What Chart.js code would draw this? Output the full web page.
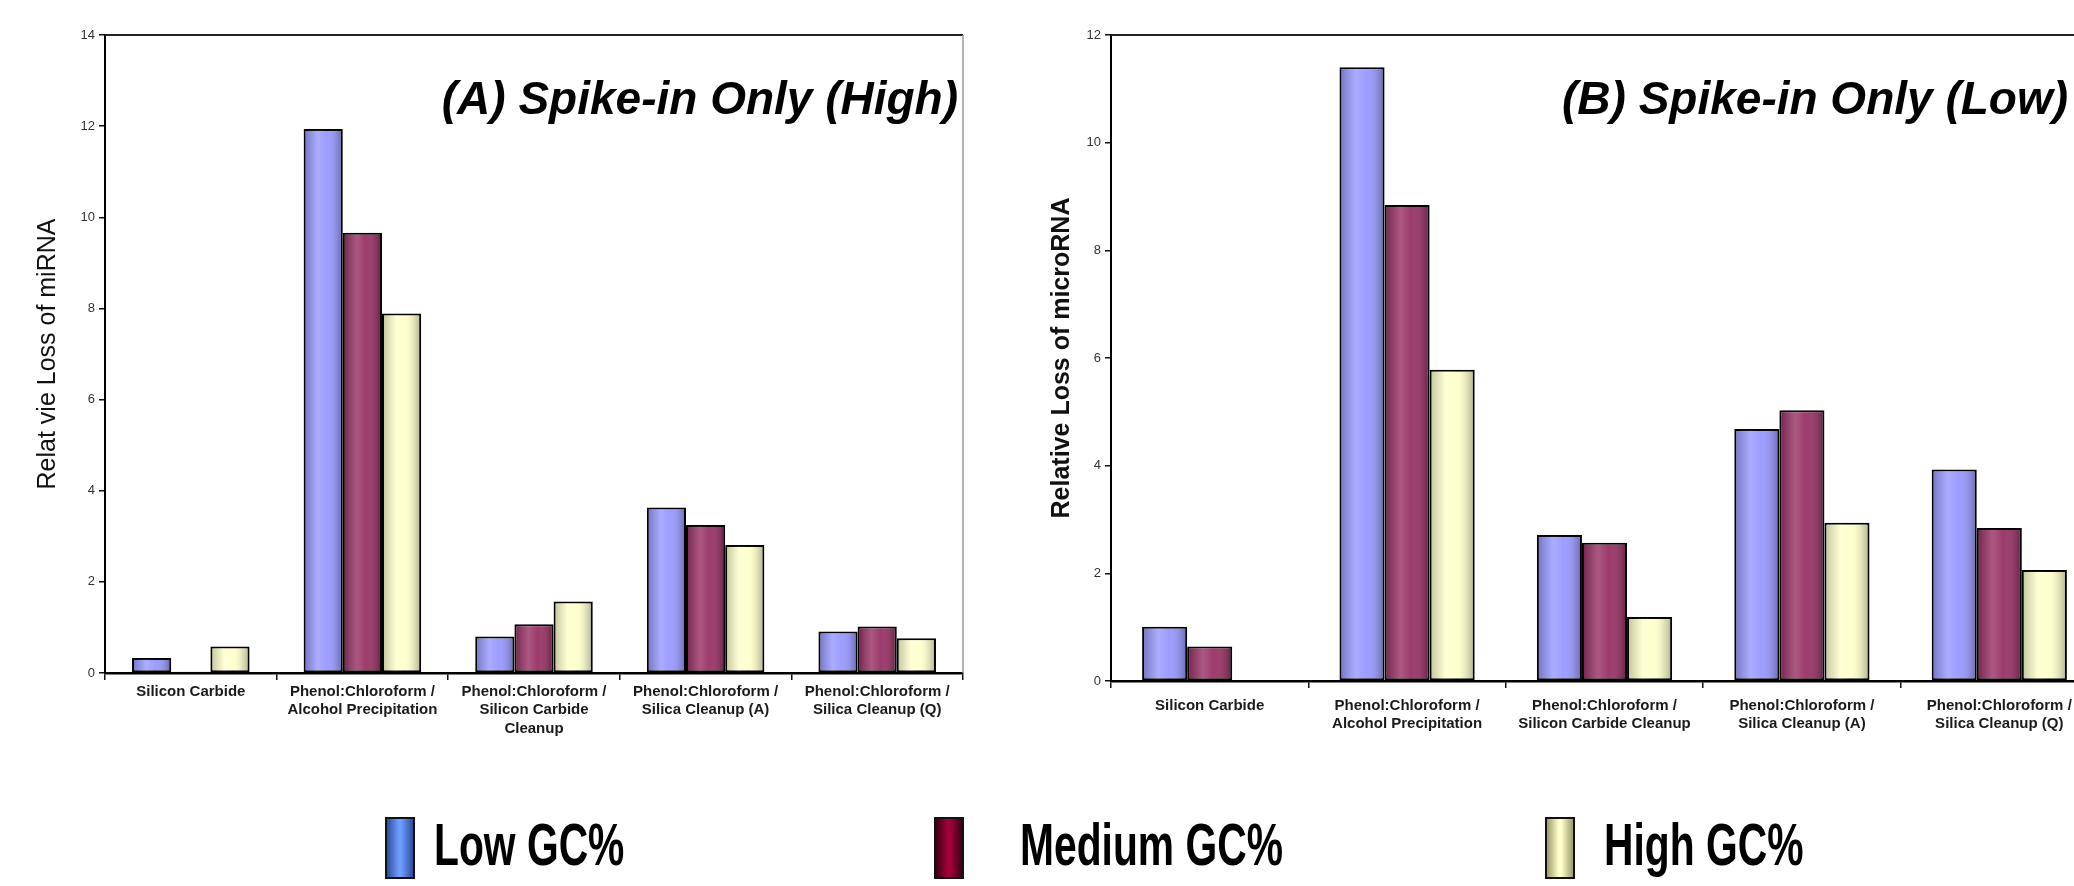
<!DOCTYPE html>
<html>
<head>
<meta charset="utf-8">
<title>Relative loss of miRNA by extraction method</title>
<script src="https://cdn.jsdelivr.net/npm/chart.js@4.4.1/dist/chart.umd.min.js"></script>
<style>
  html, body { margin: 0; padding: 0; background: #fff; }
  body { width: 2074px; height: 886px; position: relative; overflow: hidden; }
  #chartA { position: absolute; left: 0; top: 0; }
  #chartB { position: absolute; left: 1000px; top: 0; }
  .box { position: absolute; top: 817px; width: 30px; height: 62px; border: 2px solid #111; box-sizing: border-box; }
  .txt { position: absolute; top: 810px; height: 76px; line-height: 76px; white-space: nowrap;
         font: bold 60px "Liberation Sans", Arial, sans-serif; color: #000;
         transform: scaleX(0.68); transform-origin: left center; }
</style>
</head>
<body>
<canvas id="chartA" width="1000" height="790"></canvas>
<canvas id="chartB" width="1120" height="790"></canvas>
<div class="box" style="left:385px"></div><div class="txt" style="left:434px"></div>
<div class="box" style="left:934px"></div><div class="txt" style="left:1020px"></div>
<div class="box" style="left:1545px"></div><div class="txt" style="left:1604px"></div>

<script>
// series names and colours
const groups = ['Low GC%', 'Medium GC%', 'High GC%'];
const barColors = ['#9999ff', '#993366', '#ffffcc'];
const keyEdge = ['#2e4c98', '#3a0014', '#9c9c6c'];
const keyMid = ['#6c9cff', '#a2003a', '#ffffcc'];

// (A) Spike-in Only (High)
const labelsA = [
    'Silicon Carbide',
    ['Phenol:Chloroform /', 'Alcohol Precipitation'],
    ['Phenol:Chloroform /', 'Silicon Carbide', 'Cleanup'],
    ['Phenol:Chloroform /', 'Silica Cleanup (A)'],
    ['Phenol:Chloroform /', 'Silica Cleanup (Q)']
];
const lowA = [0.33, 11.94, 0.80, 3.63, 0.91];
const mediumA = [0.03, 9.66, 1.07, 3.25, 1.02];
const highA = [0.58, 7.89, 1.57, 2.81, 0.76];

// (B) Spike-in Only (Low)
const labelsB = [
    'Silicon Carbide',
    ['Phenol:Chloroform /', 'Alcohol Precipitation'],
    ['Phenol:Chloroform /', 'Silicon Carbide Cleanup'],
    ['Phenol:Chloroform /', 'Silica Cleanup (A)'],
    ['Phenol:Chloroform /', 'Silica Cleanup (Q)']
];
const lowB = [1.01, 11.40, 2.71, 4.68, 3.93];
const mediumB = [0.64, 8.84, 2.57, 5.03, 2.84];
const highB = [null, 5.78, 1.19, 2.94, 2.06];

const fontFamily = '"Liberation Sans", Arial, sans-serif';

// light/dark shading across each bar, like the old Excel bars
const shade = {
    id: 'shade',
    afterDatasetDraw(chart, args) {
        const ctx = chart.ctx;
        args.meta.data.forEach(bar => {
            const p = bar.getProps(['x', 'y', 'base', 'width'], true);
            if (!Number.isFinite(p.y) || !Number.isFinite(p.x)) return;
            const l = p.x - p.width / 2 + 1.5, r = p.x + p.width / 2 - 1.5;
            const t = Math.min(p.y, p.base) + 1.5, b = Math.max(p.y, p.base) - 1;
            if (r <= l || b <= t) return;
            const g = ctx.createLinearGradient(l, 0, r, 0);
            g.addColorStop(0, 'rgba(0,0,0,0.22)');
            g.addColorStop(0.35, 'rgba(255,255,255,0.18)');
            g.addColorStop(0.6, 'rgba(255,255,255,0.04)');
            g.addColorStop(1, 'rgba(0,0,0,0.28)');
            ctx.save();
            ctx.fillStyle = g;
            ctx.fillRect(l, t, r - l, b - t);
            ctx.restore();
        });
    }
};

// top / right frame of the plot and the panel heading
const frame = {
    id: 'frame',
    afterDraw(chart, args, opts) {
        const ctx = chart.ctx;
        const a = chart.chartArea;
        ctx.save();
        ctx.strokeStyle = '#222';
        ctx.lineWidth = 2;
        ctx.beginPath();
        ctx.moveTo(a.left, a.top);
        ctx.lineTo(a.right, a.top);
        ctx.stroke();
        ctx.strokeStyle = '#9a9a9a';
        ctx.lineWidth = 1.5;
        ctx.beginPath();
        ctx.moveTo(a.right, a.top);
        ctx.lineTo(a.right, a.bottom);
        ctx.stroke();
        ctx.font = 'italic bold 46px ' + fontFamily;
        ctx.fillStyle = '#000';
        ctx.textAlign = 'right';
        ctx.textBaseline = 'alphabetic';
        ctx.fillText(opts.text, a.right - opts.inset, a.top + 79);
        ctx.restore();
    }
};

function makeChart(id, labels, series, yMax, heading, inset, yTitle, yBold, yWidth, titlePad, xHeight, padRight, labelPad) {
    const datasets = series.map((data, i) => ({
        label: groups[i],
        data: data,
        backgroundColor: barColors[i],
        borderColor: '#000',
        borderWidth: 2,
        borderSkipped: false
    }));

    return new Chart(document.getElementById(id), {
        type: 'bar',
        data: { labels: labels, datasets: datasets },
        options: {
            responsive: false,
            animation: false,
            categoryPercentage: 0.685,
            barPercentage: 1,
            layout: { padding: { left: 0, top: 35, right: padRight, bottom: 0 } },
            plugins: {
                legend: { display: false },
                tooltip: { enabled: false },
                frame: { text: heading, inset: inset }
            },
            scales: {
                x: {
                    grid: { drawOnChartArea: false, drawTicks: true, tickLength: 7, color: '#111', lineWidth: 1.5 },
                    border: { display: true, color: '#000', width: 2.5 },
                    ticks: {
                        color: '#1a1a1a',
                        font: { family: fontFamily, size: 15, weight: 'bold', lineHeight: 1.25 },
                        padding: labelPad,
                        maxRotation: 0,
                        autoSkip: false
                    },
                    afterFit: s => { s.height = xHeight; }
                },
                y: {
                    min: 0,
                    max: yMax,
                    grid: { drawOnChartArea: false, tickLength: 6, color: '#111', lineWidth: 1.5 },
                    border: { display: true, color: '#000', width: 2 },
                    ticks: { stepSize: 2, color: '#333', font: { family: fontFamily, size: 13 }, padding: 4 },
                    title: {
                        display: true,
                        text: yTitle,
                        color: '#111',
                        font: { family: fontFamily, size: 25, weight: yBold ? 'bold' : 'normal', lineHeight: 1.2 },
                        padding: { top: titlePad, bottom: 0 }
                    },
                    afterFit: s => { s.width = yWidth; }
                }
            }
        },
        plugins: [shade, frame]
    });
}

makeChart('chartA', labelsA, [lowA, mediumA, highA], 14, '(A) Spike-in Only (High)', 5,
    'Relat vie Loss of miRNA', false, 105, 33, 117, 37, 2);
makeChart('chartB', labelsB, [lowB, mediumB, highB], 12, '(B) Spike-in Only (Low)', 30,
    'Relative Loss of microRNA', true, 111, 47, 109, 22, 8);

// shared legend under both panels
const boxes = document.querySelectorAll('.box');
const texts = document.querySelectorAll('.txt');
groups.forEach((name, i) => {
    boxes[i].style.background =
        `linear-gradient(to right, ${keyEdge[i]}, ${keyMid[i]} 45%, ${keyMid[i]} 55%, ${keyEdge[i]})`;
    texts[i].textContent = name;
});
</script>
</body>
</html>
